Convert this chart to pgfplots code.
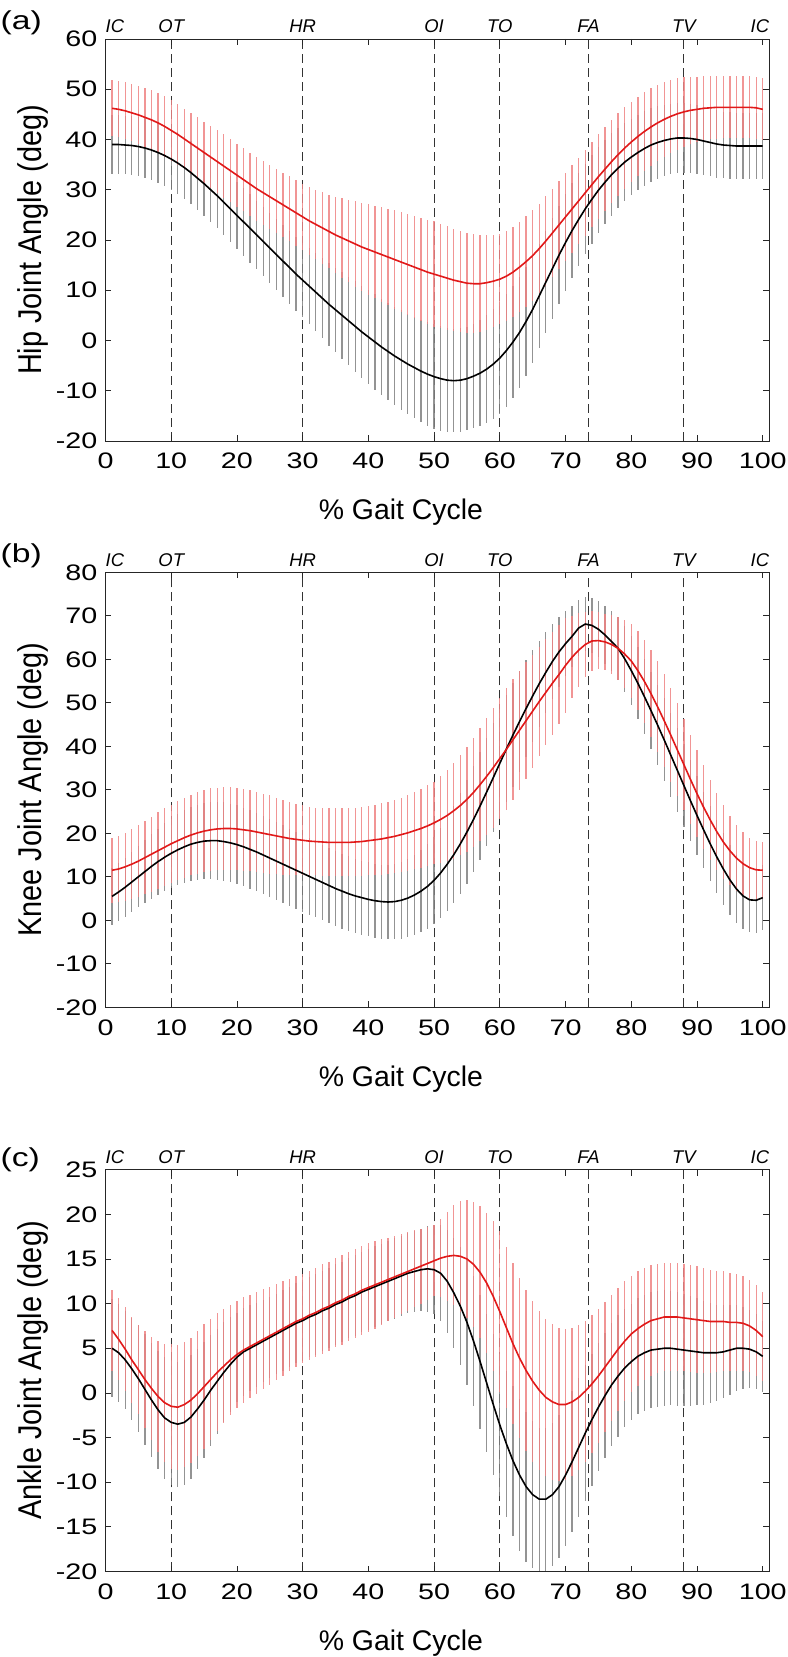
\documentclass[border=0pt]{standalone}
\usepackage{graphicx}
\usepackage{pgfplots}
\usepackage{pgfplotstable}
\pgfplotsset{compat=1.18}
\usepackage{fontspec}
\setmainfont{Liberation Sans}
\newfontfamily\tickfont{Liberation Sans}[FakeStretch=1.28]
\newfontfamily\panelfont{Liberation Sans}[FakeStretch=1.3]
\definecolor{redline}{RGB}{225,25,25}
\definecolor{redbar}{RGB}{238,130,130}
\definecolor{greybar}{RGB}{128,128,128}

% x  black-mean black-sd  red-mean red-sd
\pgfplotstableread{
x bm bs rm rs
1 39.0 5.8 46.2 5.6
2 39.0 5.8 46.0 5.6
3 38.9 5.8 45.7 5.7
4 38.8 5.9 45.3 5.7
5 38.6 5.9 44.9 5.8
6 38.3 6.0 44.4 5.8
7 37.9 6.0 43.9 5.9
8 37.4 6.1 43.3 5.9
9 36.8 6.1 42.6 6.0
10 36.1 6.2 41.8 6.0
11 35.3 6.2 41.0 6.0
12 34.4 6.3 40.1 6.0
13 33.4 6.3 39.2 6.1
14 32.3 6.4 38.3 6.1
15 31.2 6.4 37.4 6.1
16 30.0 6.5 36.5 6.2
17 28.8 6.5 35.6 6.2
18 27.5 6.6 34.7 6.3
19 26.2 6.6 33.8 6.3
20 24.9 6.7 32.9 6.3
21 23.6 6.7 32.0 6.3
22 22.3 6.8 31.1 6.3
23 21.0 6.8 30.2 6.4
24 19.7 6.9 29.4 6.4
25 18.4 7.0 28.6 6.4
26 17.1 7.0 27.8 6.4
27 15.8 7.1 27.0 6.4
28 14.5 7.2 26.2 6.5
29 13.2 7.3 25.4 6.5
30 12.0 7.4 24.6 6.5
31 10.8 7.6 23.8 6.7
32 9.6 7.8 23.1 6.9
33 8.4 8.0 22.4 7.1
34 7.2 8.2 21.7 7.3
35 6.1 8.4 21.0 7.6
36 5.0 8.6 20.4 7.9
37 3.9 8.8 19.8 8.2
38 2.8 9.0 19.2 8.5
39 1.7 9.2 18.6 8.8
40 0.7 9.4 18.1 9.0
41 -0.3 9.5 17.6 9.2
42 -1.3 9.6 17.1 9.4
43 -2.2 9.7 16.6 9.6
44 -3.1 9.8 16.1 9.8
45 -3.9 9.9 15.6 10.0
46 -4.7 10.0 15.1 10.1
47 -5.4 10.1 14.6 10.2
48 -6.1 10.2 14.1 10.3
49 -6.7 10.3 13.6 10.4
50 -7.2 10.4 13.2 10.5
51 -7.6 10.4 12.8 10.4
52 -7.9 10.4 12.4 10.3
53 -8.0 10.3 12.0 10.2
54 -7.9 10.3 11.7 10.1
55 -7.6 10.3 11.4 10.0
56 -7.1 10.4 11.3 9.8
57 -6.5 10.6 11.3 9.6
58 -5.7 10.8 11.5 9.4
59 -4.7 11.0 11.8 9.2
60 -3.5 11.2 12.2 9.0
61 -2.0 11.2 12.8 9.0
62 -0.3 11.1 13.6 9.0
63 1.6 11.0 14.6 9.0
64 3.8 10.8 15.7 9.0
65 6.2 10.6 16.9 9.0
66 8.9 10.4 18.3 8.9
67 11.6 10.2 19.8 8.9
68 14.3 10.0 21.4 8.8
69 17.0 9.8 23.0 8.8
70 19.5 9.6 24.6 8.7
71 21.9 9.4 26.2 8.7
72 24.1 9.2 27.8 8.6
73 26.2 9.0 29.4 8.6
74 28.1 8.8 31.0 8.5
75 29.9 8.6 32.6 8.5
76 31.5 8.4 34.1 8.4
77 33.0 8.2 35.6 8.3
78 34.3 8.0 37.0 8.2
79 35.5 7.8 38.3 8.1
80 36.5 7.6 39.5 8.0
81 37.4 7.5 40.6 7.9
82 38.2 7.4 41.6 7.8
83 38.9 7.3 42.5 7.7
84 39.4 7.2 43.3 7.6
85 39.8 7.1 44.0 7.5
86 40.1 7.0 44.6 7.3
87 40.3 7.0 45.1 7.1
88 40.3 6.9 45.5 6.9
89 40.2 6.9 45.8 6.7
90 40.0 6.8 46.0 6.5
91 39.7 6.8 46.2 6.4
92 39.4 6.7 46.3 6.3
93 39.1 6.7 46.4 6.3
94 38.9 6.6 46.4 6.2
95 38.8 6.6 46.4 6.2
96 38.7 6.5 46.4 6.2
97 38.7 6.5 46.4 6.2
98 38.7 6.5 46.4 6.2
99 38.7 6.5 46.3 6.2
100 38.7 6.5 46.0 6.2
}\tabA

\pgfplotstableread{
x bm bs rm rs
1 5.5 6.6 11.5 7.5
2 6.5 6.7 11.8 7.6
3 7.6 6.8 12.3 7.8
4 8.8 6.9 12.9 8.0
5 10.0 7.0 13.6 8.2
6 11.2 7.2 14.4 8.4
7 12.4 7.4 15.2 8.6
8 13.5 7.6 16.0 8.8
9 14.5 7.8 16.8 8.9
10 15.4 8.0 17.6 9.0
11 16.2 8.2 18.3 9.1
12 16.9 8.4 19.0 9.2
13 17.5 8.5 19.6 9.3
14 17.9 8.7 20.1 9.4
15 18.2 8.8 20.5 9.5
16 18.3 8.9 20.8 9.5
17 18.3 9.0 21.0 9.5
18 18.1 9.0 21.1 9.5
19 17.8 9.0 21.1 9.5
20 17.4 9.0 21.0 9.5
21 16.9 9.0 20.8 9.4
22 16.3 9.0 20.6 9.3
23 15.7 9.0 20.3 9.2
24 15.0 9.0 20.0 9.1
25 14.3 9.0 19.7 9.0
26 13.6 8.9 19.4 8.8
27 12.9 8.9 19.1 8.6
28 12.2 8.9 18.8 8.4
29 11.5 8.8 18.6 8.2
30 10.8 8.8 18.4 8.0
31 10.1 8.8 18.2 7.9
32 9.4 8.7 18.1 7.8
33 8.7 8.7 18.0 7.8
34 8.0 8.7 17.9 7.8
35 7.3 8.6 17.9 7.8
36 6.7 8.6 17.9 7.8
37 6.1 8.6 17.9 7.8
38 5.6 8.5 18.0 7.9
39 5.2 8.5 18.1 7.9
40 4.8 8.5 18.3 8.0
41 4.5 8.5 18.5 8.1
42 4.3 8.5 18.7 8.2
43 4.2 8.5 19.0 8.3
44 4.3 8.6 19.3 8.4
45 4.6 8.8 19.7 8.5
46 5.1 9.0 20.1 8.7
47 5.8 9.2 20.6 8.9
48 6.7 9.4 21.1 9.1
49 7.8 9.7 21.7 9.3
50 9.2 10.0 22.4 9.5
51 10.9 10.4 23.2 10.0
52 12.9 10.8 24.1 10.5
53 15.1 11.2 25.2 11.0
54 17.6 11.6 26.4 11.5
55 20.3 12.0 27.8 12.0
56 23.2 12.2 29.4 12.5
57 26.3 12.4 31.2 13.0
58 29.5 12.5 33.1 13.5
59 32.8 12.5 35.1 13.8
60 36.1 12.5 37.2 14.0
61 39.4 12.3 39.3 14.0
62 42.6 12.0 41.5 13.9
63 45.7 11.6 43.7 13.7
64 48.7 11.1 45.9 13.4
65 51.6 10.5 48.1 13.0
66 54.4 9.9 50.3 12.6
67 57.0 9.3 52.4 12.2
68 59.5 8.7 54.5 11.8
69 61.7 8.1 56.5 11.4
70 63.6 7.5 58.6 11.0
71 65.3 7.0 60.5 9.5
72 67.2 6.5 62.1 8.5
73 68.1 6.3 63.4 7.5
74 67.8 6.3 64.2 6.8
75 66.9 6.4 64.3 6.5
76 65.6 6.6 64.0 6.5
77 64.1 6.9 63.4 6.8
78 62.5 7.2 62.5 7.3
79 60.1 7.6 61.2 7.9
80 57.4 8.0 59.6 8.5
81 54.5 8.3 57.4 9.0
82 51.4 8.6 54.9 9.5
83 48.2 8.9 52.1 10.0
84 44.9 9.2 49.1 10.4
85 41.5 9.5 45.9 10.7
86 38.0 9.6 42.6 10.8
87 34.5 9.6 39.2 10.7
88 31.0 9.5 35.8 10.5
89 27.5 9.3 32.4 10.2
90 24.1 9.0 29.1 10.0
91 20.8 8.8 26.0 9.6
92 17.6 8.6 23.1 9.2
93 14.6 8.4 20.4 8.8
94 11.8 8.2 18.0 8.4
95 9.3 8.0 16.0 8.0
96 7.2 7.8 14.3 7.6
97 5.6 7.6 13.0 7.2
98 4.7 7.5 12.1 6.9
99 4.6 7.5 11.6 6.7
100 5.2 7.5 11.5 6.5
}\tabB

\pgfplotstableread{
x bm bs rm rs
1 5.0 5.5 7.0 4.5
2 4.5 5.5 6.0 4.6
3 3.7 5.5 4.9 4.7
4 2.7 5.7 3.7 4.8
5 1.6 6.0 2.6 5.0
6 0.4 6.2 1.5 5.4
7 -0.8 6.4 0.5 5.8
8 -1.9 6.6 -0.4 6.2
9 -2.8 6.8 -1.1 6.6
10 -3.3 7.0 -1.5 7.0
11 -3.5 7.0 -1.6 7.0
12 -3.3 7.0 -1.3 7.0
13 -2.7 6.9 -0.8 7.0
14 -1.8 6.7 -0.1 7.0
15 -0.8 6.5 0.7 7.0
16 0.3 6.2 1.5 6.8
17 1.3 5.9 2.3 6.6
18 2.3 5.6 3.0 6.4
19 3.2 5.3 3.7 6.2
20 4.0 5.0 4.3 6.0
21 4.6 4.9 4.8 5.9
22 5.0 4.8 5.2 5.8
23 5.4 4.7 5.6 5.7
24 5.8 4.6 6.0 5.6
25 6.2 4.5 6.4 5.5
26 6.6 4.5 6.8 5.4
27 7.0 4.5 7.2 5.3
28 7.4 4.5 7.6 5.2
29 7.8 4.5 8.0 5.1
30 8.1 4.5 8.3 5.0
31 8.5 4.5 8.7 5.0
32 8.8 4.5 9.0 5.0
33 9.2 4.5 9.4 5.0
34 9.5 4.5 9.7 5.0
35 9.9 4.5 10.1 5.0
36 10.2 4.5 10.4 5.0
37 10.6 4.5 10.8 5.0
38 10.9 4.5 11.1 5.0
39 11.3 4.5 11.5 5.0
40 11.6 4.5 11.8 5.0
41 11.9 4.5 12.1 4.9
42 12.2 4.5 12.4 4.8
43 12.5 4.5 12.7 4.7
44 12.8 4.5 13.0 4.6
45 13.1 4.5 13.3 4.5
46 13.4 4.5 13.6 4.4
47 13.6 4.5 13.9 4.3
48 13.8 4.6 14.2 4.2
49 13.9 4.8 14.5 4.1
50 13.8 5.0 14.8 4.0
51 13.4 5.4 15.1 4.4
52 12.5 5.8 15.3 5.0
53 11.2 6.2 15.4 5.6
54 9.7 6.6 15.3 6.2
55 7.9 7.0 15.0 6.6
56 5.8 7.3 14.4 7.0
57 3.5 7.5 13.5 7.4
58 1.1 7.7 12.3 7.8
59 -1.3 7.9 10.8 8.4
60 -3.6 8.0 9.1 9.0
61 -5.7 8.2 7.3 9.0
62 -7.6 8.4 5.5 9.0
63 -9.2 8.5 3.9 9.0
64 -10.5 8.4 2.5 9.0
65 -11.4 8.2 1.3 9.0
66 -11.9 8.0 0.3 8.9
67 -11.9 8.0 -0.5 8.8
68 -11.4 8.0 -1.0 8.7
69 -10.5 8.0 -1.3 8.6
70 -9.2 8.0 -1.3 8.5
71 -7.7 7.9 -1.0 8.3
72 -6.1 7.8 -0.5 8.1
73 -4.5 7.6 0.2 7.9
74 -3.0 7.4 1.0 7.7
75 -1.6 7.2 1.9 7.5
76 -0.3 7.0 2.9 7.3
77 0.9 6.9 3.9 7.1
78 1.9 6.8 4.9 6.9
79 2.8 6.6 5.8 6.7
80 3.5 6.5 6.6 6.5
81 4.1 6.5 7.2 6.4
82 4.5 6.5 7.7 6.3
83 4.8 6.5 8.1 6.2
84 4.9 6.5 8.3 6.1
85 5.0 6.5 8.5 6.0
86 5.0 6.4 8.5 6.0
87 4.9 6.4 8.5 6.0
88 4.8 6.3 8.4 6.0
89 4.7 6.2 8.3 6.0
90 4.6 6.0 8.2 6.0
91 4.5 5.8 8.1 5.9
92 4.5 5.6 8.0 5.8
93 4.5 5.4 8.0 5.7
94 4.6 5.2 8.0 5.6
95 4.8 5.0 7.9 5.5
96 5.0 4.8 7.9 5.4
97 5.0 4.6 7.8 5.3
98 4.9 4.4 7.5 5.2
99 4.6 4.2 7.0 5.1
100 4.1 4.0 6.3 5.0
}\tabC

\pgfplotsset{
  gait/.style={
    scale only axis, width=663.8bp,
    xmin=0, xmax=101, xtick={0,10,...,100},
    tick align=inside, tick pos=both, major tick length=6bp,
    axis line style={line width=0.8bp, black!85},
    every tick/.style={line width=0.8bp, black!85},
    tick label style={font=\tickfont\fontsize{22.5}{22.5}\selectfont},
    /pgf/number format/assume math mode=true,
    xticklabel style={anchor=north, inner sep=0pt, yshift=-12bp},
    yticklabel style={anchor=east, inner sep=0pt, xshift=-8bp},
    label style={font=\fontsize{29}{29}\selectfont},
    xlabel={\% Gait Cycle},
    xlabel style={font=\fontsize{28.5}{28.5}\selectfont, at={(axis description cs:0.445,0)}, anchor=base, yshift=-79bp},
    ylabel style={at={(axis description cs:-0.0961,0.5)}, anchor=base},
    clip=false, axis on top,
  },
  sdbar/.style={draw=none, mark=none, forget plot,
    error bars/.cd, y dir=both, y explicit, error mark=none,
    error bar style={draw=#1, line width=1.3bp, opacity=0.85}},
  meanline/.style={draw=#1, line width=1.6bp, mark=none, forget plot},
  evline/.style={draw=black!80, line width=0.9bp, dash pattern=on 9bp off 5bp, forget plot},
}
\tikzset{
  evlab/.style={font=\fontsize{18.5}{18.5}\selectfont\itshape, anchor=base, inner sep=0pt, yshift=6bp},
  panlab/.style={anchor=base west, inner sep=0pt, font=\panelfont\fontsize{26}{26}\selectfont},
}
\newcommand{\ylab}[1]{\scalebox{1}[1.14]{#1}}

\begin{document}
\begin{tikzpicture}
\path[use as bounding box] (0,0) rectangle (788bp,1657bp);

% ---------- (a) ----------
\begin{axis}[gait, at={(105.5bp,1216bp)}, anchor=south west, height=402bp,
  ymin=-20, ymax=60, ytick={-20,-10,...,60}, ylabel={\ylab{Hip Joint Angle (deg)}}]
  \pgfplotsinvokeforeach{10,30,50,60,73.5,88}{\addplot[evline] coordinates {(#1,-20) (#1,60)};}
  \addplot[sdbar=greybar] table[x=x, y=bm, y error=bs] {\tabA};
  \addplot[sdbar=redbar] table[x=x, y=rm, y error=rs] {\tabA};
  \addplot[meanline=black] table[x=x, y=bm] {\tabA};
  \addplot[meanline=redline] table[x=x, y=rm] {\tabA};
  \node[evlab, anchor=base west] at (axis cs:0,60) {IC};
  \node[evlab] at (axis cs:10,60) {OT};
  \node[evlab] at (axis cs:30,60) {HR};
  \node[evlab] at (axis cs:50,60) {OI};
  \node[evlab] at (axis cs:60,60) {TO};
  \node[evlab] at (axis cs:73.5,60) {FA};
  \node[evlab] at (axis cs:88,60) {TV};
  \node[evlab, anchor=base east] at (axis cs:101,60) {IC};
\end{axis}

% ---------- (b) ----------
\begin{axis}[gait, at={(105.5bp,649.7bp)}, anchor=south west, height=435bp,
  ymin=-20, ymax=80, ytick={-20,-10,...,80}, ylabel={\ylab{Knee Joint Angle (deg)}}]
  \pgfplotsinvokeforeach{10,30,50,60,73.5,88}{\addplot[evline] coordinates {(#1,-20) (#1,80)};}
  \addplot[sdbar=greybar] table[x=x, y=bm, y error=bs] {\tabB};
  \addplot[sdbar=redbar] table[x=x, y=rm, y error=rs] {\tabB};
  \addplot[meanline=black] table[x=x, y=bm] {\tabB};
  \addplot[meanline=redline] table[x=x, y=rm] {\tabB};
  \node[evlab, anchor=base west] at (axis cs:0,80) {IC};
  \node[evlab] at (axis cs:10,80) {OT};
  \node[evlab] at (axis cs:30,80) {HR};
  \node[evlab] at (axis cs:50,80) {OI};
  \node[evlab] at (axis cs:60,80) {TO};
  \node[evlab] at (axis cs:73.5,80) {FA};
  \node[evlab] at (axis cs:88,80) {TV};
  \node[evlab, anchor=base east] at (axis cs:101,80) {IC};
\end{axis}

% ---------- (c) ----------
\begin{axis}[gait, at={(105.5bp,85.5bp)}, anchor=south west, height=401.8bp,
  ymin=-20, ymax=25, ytick={-20,-15,...,25}, ylabel={\ylab{Ankle Joint Angle (deg)}}]
  \pgfplotsinvokeforeach{10,30,50,60,73.5,88}{\addplot[evline] coordinates {(#1,-20) (#1,25)};}
  \addplot[sdbar=greybar] table[x=x, y=bm, y error=bs] {\tabC};
  \addplot[sdbar=redbar] table[x=x, y=rm, y error=rs] {\tabC};
  \addplot[meanline=black] table[x=x, y=bm] {\tabC};
  \addplot[meanline=redline] table[x=x, y=rm] {\tabC};
  \node[evlab, anchor=base west] at (axis cs:0,25) {IC};
  \node[evlab] at (axis cs:10,25) {OT};
  \node[evlab] at (axis cs:30,25) {HR};
  \node[evlab] at (axis cs:50,25) {OI};
  \node[evlab] at (axis cs:60,25) {TO};
  \node[evlab] at (axis cs:73.5,25) {FA};
  \node[evlab] at (axis cs:88,25) {TV};
  \node[evlab, anchor=base east] at (axis cs:101,25) {IC};
\end{axis}

\node[panlab] at (0.5bp,1627.5bp) {(a)};
\node[panlab] at (0.5bp,1094.2bp) {(b)};
\node[panlab] at (0.5bp,490.8bp) {(c)};
\end{tikzpicture}
\end{document}
